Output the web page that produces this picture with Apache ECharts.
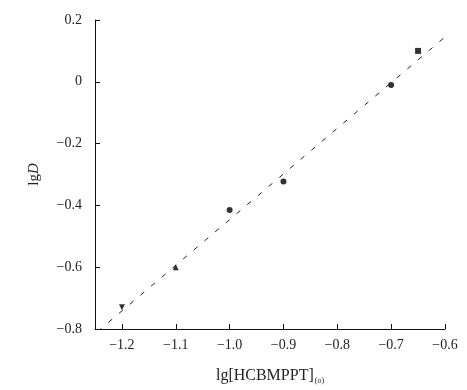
<!DOCTYPE html>
<html>
<head>
<meta charset="utf-8">
<script src="https://cdn.jsdelivr.net/npm/echarts@6/dist/echarts.min.js"></script>
<style>html,body{margin:0;padding:0;background:#fff;}#c{width:467px;height:390px;}</style>
</head>
<body>
<div id="c"></div>
<script>
var xValues = [-1.2, -1.1, -1.0, -0.9, -0.7, -0.65];
var yValues = [-0.73, -0.60, -0.415, -0.323, -0.01, 0.10];
var markerShapes = ['triangle', 'triangle', 'circle', 'circle', 'circle', 'rect'];
var markerRotations = [180, 0, 0, 0, 0, 0];
var fitLineX = [-1.245, -0.6];
var fitLineY = [-0.808, 0.145];
var xTicks = [-1.2, -1.1, -1.0, -0.9, -0.8, -0.7, -0.6];
var yTicks = [-0.8, -0.6, -0.4, -0.2, 0, 0.2];

var pts = xValues.map(function (x, i) {
  return { value: [x, yValues[i]], symbol: markerShapes[i], symbolRotate: markerRotations[i] };
});
var fit = fitLineX.map(function (x, i) { return [x, fitLineY[i]]; });

function fmt(v) {
  if (Math.abs(v) < 1e-9) return '0';
  var s = Math.abs(v).toFixed(1);
  return (v < 0 ? '\u2212' : '') + s;
}

var font = 'Liberation Serif';
var chart = echarts.init(document.getElementById('c'), null, { renderer: 'canvas' });
chart.setOption({
  animation: false,
  backgroundColor: '#fff',
  grid: { left: 95, right: 22, top: 20, bottom: 60, containLabel: false },
  xAxis: {
    type: 'value', min: -1.25, max: -0.6,
    axisLine: { onZero: false, lineStyle: { color: '#111', width: 1 } },
    axisTick: { inside: true, length: 5, customValues: xTicks, lineStyle: { color: '#111' } },
    axisLabel: { customValues: xTicks, formatter: fmt, color: '#222', fontFamily: font, fontSize: 14, margin: 9 },
    splitLine: { show: false },
    name: 'lg[HCBMPPT]{s|(o)}',
    nameLocation: 'middle', nameGap: 38,
    nameTextStyle: { color: '#222', fontFamily: font, fontSize: 16,
      rich: { s: { fontSize: 8, fontFamily: font, color: '#222', padding: [10, 0, 0, 1] } } }
  },
  yAxis: {
    type: 'value', min: -0.8, max: 0.2, interval: 0.2,
    axisLine: { show: true, onZero: false, lineStyle: { color: '#111', width: 1 } },
    axisTick: { show: true, inside: true, length: 5, lineStyle: { color: '#111' } },
    axisLabel: { formatter: fmt, color: '#222', fontFamily: font, fontSize: 14, margin: 13 },
    splitLine: { show: false },
    name: 'lg{i|D}',
    nameLocation: 'middle', nameGap: 53, nameRotate: 90,
    nameTextStyle: { color: '#222', fontFamily: font, fontSize: 15,
      rich: { i: { fontStyle: 'italic', fontFamily: font, fontSize: 15, color: '#222' } } }
  },
  series: [
    {
      type: 'line', data: fit, symbol: 'none', silent: true,
      lineStyle: { color: '#222', width: 1, type: [5, 9] }
    },
    {
      type: 'scatter', data: pts, symbolSize: 6,
      itemStyle: { color: '#000' }
    }
  ]
});
</script>
</body>
</html>
